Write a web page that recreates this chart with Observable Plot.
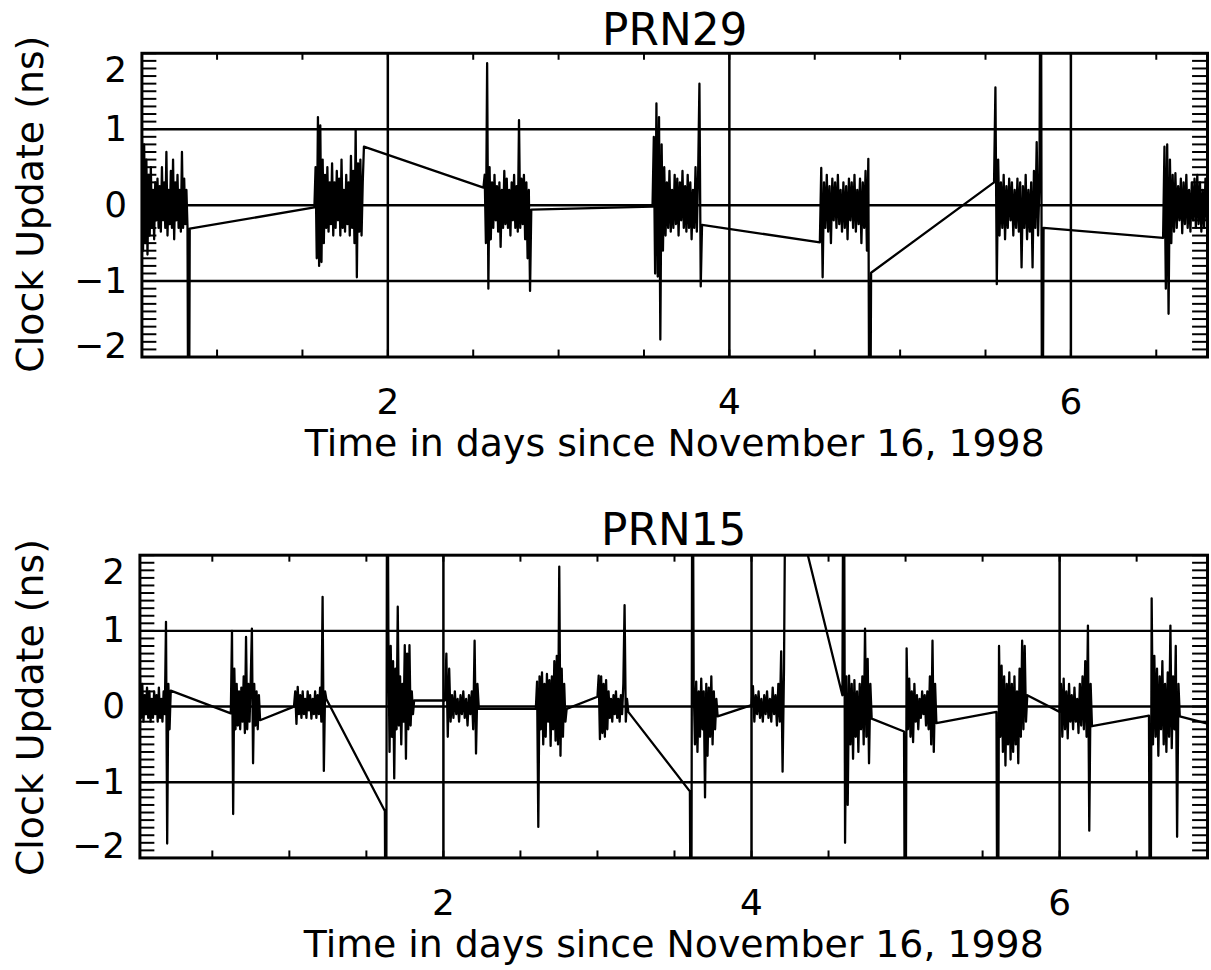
<!DOCTYPE html>
<html><head><meta charset="utf-8">
<script src="https://cdn.jsdelivr.net/npm/d3@7"></script>
<script src="https://cdn.jsdelivr.net/npm/@observablehq/plot@0.6"></script>
<style>
html,body{margin:0;padding:0;background:#fff;overflow:hidden;}
#chart{position:relative;width:1211px;height:970px;overflow:hidden;background:#fff;}
#chart svg{position:absolute;left:0;}
</style></head><body><div id="chart"></div>
<script>
const xLabel = "Time in days since November 16, 1998";
const yLabel = "Clock Update (ns)";
const xTickValues = [2, 4, 6];
const yTickInner = [1, 0, -1];
const yTickTop = [2];
const yTickBottom = [-2];
const gridY = [-1, 0, 1];
const gridX = [2, 4, 6];
const xMinor = [0.5, 1, 1.5, 2, 2.5, 3, 3.5, 4, 4.5, 5, 5.5, 6, 6.5];
const yMinor = [-2, -1.9, -1.8, -1.7, -1.6, -1.5, -1.4, -1.3, -1.2, -1.1, -1, -0.9, -0.8, -0.7, -0.6, -0.5, -0.4, -0.3, -0.2, -0.1, 0,
  0.1, 0.2, 0.3, 0.4, 0.5, 0.6, 0.7, 0.8, 0.9, 1, 1.1, 1.2, 1.3, 1.4, 1.5, 1.6, 1.7, 1.8, 1.9, 2];

// PRN29 (top panel): burst start/end day and sampled clock updates (ns)
const prn29Start = [0.56, 1.57, 2.56, 3.55, 4.53, 5.55, 6.54];
const prn29End   = [0.84, 1.86, 2.84, 3.84, 4.83, 5.84, 6.82];
const prn29Bursts = [
  [0.9,-0.6,0.8,-0.5,0.6,-0.65,0.4,-0.4,0.5,-0.3,0.2,-0.45,0.3,-0.2,0.35,-0.3,0.25,-0.35,0.5,-0.2,0.3,-0.3,0.7,-0.4,0.2,-0.25,0.45,-0.3,0.6,-0.45,0.3,-0.2,0.4,-0.3,0.2,-0.35,0.7,-0.3,0.35,-0.25,0.2,-0.3,-5,-0.31],
  [-0.03,0.5,-0.7,1.16,-0.8,1.05,-0.75,0.6,-0.5,0.4,-0.3,0.5,-0.35,0.3,-0.25,0.55,-0.4,0.3,-0.3,0.45,-0.2,0.35,-0.4,0.6,-0.3,0.2,-0.35,0.4,-0.25,0.3,-0.4,0.65,-0.3,0.45,-0.5,1.0,-0.95,0.55,-0.35,0.6,-0.4,0.3,0.77],
  [0.23,0.4,-0.5,1.87,-1.1,0.5,-0.45,0.3,-0.3,0.4,-0.2,0.25,-0.35,0.3,-0.55,0.2,-0.3,0.45,-0.25,0.35,-0.3,0.2,-0.4,0.3,-0.2,0.4,-0.3,0.25,-0.35,1.12,-0.3,0.35,-0.25,0.4,-0.45,0.3,-0.7,0.2,-1.13,-0.06],
  [-0.02,0.9,-0.9,1.34,-0.94,1.16,-1.77,0.8,-0.6,0.5,-0.4,0.3,-0.3,0.45,-0.35,0.2,-0.3,0.4,-0.25,0.35,-0.4,0.3,-0.2,0.45,-0.3,0.25,-0.35,0.4,-0.3,0.3,-0.45,0.2,-0.3,0.5,-0.35,0.4,1.6,-1.07,-0.26],
  [-0.49,0.49,-0.95,0.3,-0.3,0.4,-0.35,0.25,-0.5,0.35,-0.2,0.3,-0.3,0.4,-0.25,0.2,-0.35,0.3,-0.3,0.25,-0.45,0.35,-0.2,0.3,-0.3,0.4,-0.35,0.2,-0.25,0.35,-0.5,0.3,-0.3,0.45,-0.6,0.61,-5,-0.89],
  [0.3,1.55,-1.04,0.6,-0.4,0.3,-0.3,0.4,-0.45,0.25,-0.3,0.35,-0.2,0.3,-0.4,0.2,-0.3,0.35,-0.35,0.3,-0.82,0.25,-0.3,0.4,-0.45,0.2,-0.35,0.3,-0.82,0.45,-0.3,0.83,-0.4,0.3,5,-5,-0.3],
  [-0.43,0.77,-1.1,0.8,-1.43,0.6,-0.5,0.4,-0.35,0.42,-0.3,0.25,-0.2,0.35,-0.37,0.3,-0.25,0.4,-0.3,0.2,-0.35,0.3,-0.2,0.35,-0.3,0.4,-0.25,0.3,-0.35,0.2,-0.3,0.35,-0.2,0.3,-0.3,0.25]
];

// PRN15 (bottom panel)
const prn15Start = [0.03, 0.62, 1.03, 1.62, 2.01, 2.6, 3.0, 3.6, 4.0, 4.59, 4.99, 5.59, 6.0, 6.58, 6.97];
const prn15End   = [0.23, 0.81, 1.24, 1.81, 2.23, 2.8, 3.2, 3.78, 4.22, 4.78, 5.2, 5.79, 6.21, 6.78, 6.97];
const prn15Bursts = [
  [0.4,-0.15,0.3,-0.2,0.15,-0.1,0.25,-0.15,0.2,-0.2,0.1,-0.15,0.2,-0.1,0.15,-0.2,0.25,-0.15,0.1,-0.2,0.2,-0.1,1.12,-1.81,0.3,-0.3,0.21],
  [-0.09,1.0,-1.42,0.5,-0.3,0.3,-0.25,0.2,-0.3,0.25,-0.2,0.4,-0.35,0.92,-0.3,0.3,-0.2,0.35,1.03,-0.75,0.3,-0.25,0.2,-0.3,0.15,-0.18],
  [0.0,0.2,-0.23,0.26,-0.1,0.15,-0.15,0.2,-0.1,0.1,-0.15,0.2,-0.05,0.15,-0.16,0.1,-0.1,0.2,-0.15,0.15,-0.1,0.25,-0.2,1.45,-0.85,0.2,0.1],
  [-1.38,-5,5,0.94,-0.6,0.8,-0.4,0.6,-0.95,0.5,-0.3,1.32,-0.25,0.4,-0.5,0.3,-0.2,0.81,-0.69,0.7,-0.3,0.81,-0.25,0.2,-0.1,0.08],
  [0.08,0.7,-0.4,0.5,-0.2,0.15,-0.15,0.2,-0.1,0.1,-0.2,0.15,-0.1,0.2,-0.15,0.1,-0.25,0.15,-0.1,0.2,-0.3,0.87,-0.62,0.3,-0.03],
  [-0.03,0.33,-1.59,0.4,-0.3,0.45,-0.5,0.3,-0.4,0.43,-0.2,0.35,-0.52,0.4,-0.3,0.6,-0.45,0.67,-0.5,1.85,-0.65,0.5,-0.4,0.3,-0.2,-0.03],
  [0.13,0.41,-0.43,0.4,-0.35,0.3,-0.4,0.35,-0.3,0.2,-0.15,0.1,-0.2,0.15,-0.1,0.2,-0.15,0.1,-0.2,0.15,-0.1,0.3,1.34,-0.2,0.1,-0.07],
  [-1.12,-5,5,0.3,-0.5,0.33,-0.6,0.2,-0.4,0.37,-0.3,0.2,-1.2,0.3,-0.65,0.25,-0.4,0.4,-0.5,0.2,-0.3,0.1,-0.13],
  [0.02,0.27,-0.2,0.15,-0.1,0.2,-0.15,0.1,-0.2,0.15,-0.1,0.2,-0.15,0.1,-0.2,0.25,-0.1,0.15,-0.25,0.3,-0.2,0.73,-0.86,0.5,3.2],
  [0.15,5,-1.8,0.4,-1.3,0.41,-0.5,0.3,-0.69,0.35,-0.4,0.2,-0.6,0.3,-0.3,0.4,-0.5,1.03,-0.4,0.63,-0.75,0.3,-0.16],
  [-0.33,-5,0.77,-0.3,0.37,-0.4,0.2,-0.47,0.3,-0.2,0.15,-0.3,0.1,-0.15,0.2,-0.1,0.15,-0.25,0.2,-0.3,0.4,-0.5,0.87,-0.6,0.3,-0.22],
  [-0.07,-5,0.8,-0.4,0.54,-0.6,0.4,-0.78,0.3,-0.5,0.45,-0.7,0.3,-0.6,0.4,-0.5,0.2,-0.75,0.5,-0.4,0.87,-0.3,0.8,-0.2,0.15],
  [-0.07,0.3,-0.4,0.37,-0.3,0.2,-0.42,0.3,-0.2,0.15,-0.3,0.25,-0.2,0.1,-0.35,0.3,-0.25,0.4,-0.3,0.6,-0.4,1.07,-1.64,0.3,-0.26],
  [-0.12,-5,1.43,-0.5,0.67,-0.4,0.5,-0.65,0.4,-0.3,0.6,-0.5,0.3,-0.6,0.45,-0.4,1.07,-0.55,0.4,-0.3,0.8,-1.72,0.3,-0.13],
  [-0.23]
];

function toRows(starts, ends, bursts) {
  return bursts.flatMap((vals, b) => vals.map((v, i) => ({
    day: vals.length > 1 ? starts[b] + (ends[b] - starts[b]) * i / (vals.length - 1) : starts[b],
    value: v
  })));
}
const fmt = d => d < 0 ? "\u2212" + (-d) : String(d);
const FONT = "'DejaVu Sans', sans-serif";

function panel(cfg) {
  const W = 1216, mr = 4;
  const fw = W - cfg.marginLeft - mr;
  const fh = cfg.height - cfg.marginTop - cfg.marginBottom;
  const xm = xMinor.filter(d => d >= cfg.domain[0] && d <= cfg.domain[1]);
  const rows = toRows(cfg.starts, cfg.ends, cfg.bursts);
  const svg = Plot.plot({
    width: W, height: cfg.height,
    marginTop: cfg.marginTop, marginBottom: cfg.marginBottom,
    marginLeft: cfg.marginLeft, marginRight: mr,
    x: {domain: cfg.domain, axis: null},
    y: {domain: [-2, 2], axis: null},
    style: {fontFamily: FONT, color: "black", background: "white", overflow: "visible"},
    marks: [
      Plot.ruleY(gridY, {stroke: "black", strokeWidth: 2.5}),
      Plot.ruleX(gridX, {stroke: "black", strokeWidth: 2.5}),
      Plot.tickY(yMinor, {stroke: "black", strokeWidth: 2, insetRight: fw - 15}),
      Plot.tickY(yMinor, {stroke: "black", strokeWidth: 2, insetLeft: fw - 15}),
      Plot.tickX(xm, {stroke: "black", strokeWidth: 2, insetBottom: fh - 7}),
      Plot.tickX(xm, {stroke: "black", strokeWidth: 2, insetTop: fh - 7}),
      Plot.line(rows, {x: "day", y: "value", stroke: "black", strokeWidth: 2.3, clip: true}),
      Plot.frame({stroke: "black", strokeWidth: 3}),
      Plot.text([cfg.title], {frameAnchor: "top", lineAnchor: "bottom", dy: cfg.titleDy, fontSize: 44, fill: "black"}),
      Plot.text(xTickValues, {x: d => d, text: fmt, frameAnchor: "bottom", lineAnchor: "bottom", dy: 57, fontSize: 36, fill: "black"}),
      Plot.text([xLabel], {frameAnchor: "bottom", lineAnchor: "bottom", dy: 99, fontSize: 38, fill: "black"}),
      Plot.text(yTickInner, {y: d => d, text: fmt, frameAnchor: "left", textAnchor: "end", dx: -15, fontSize: 36, fill: "black"}),
      Plot.text(yTickTop, {y: d => d, text: fmt, frameAnchor: "left", textAnchor: "end", dx: -15, dy: 17, fontSize: 36, fill: "black"}),
      Plot.text(yTickBottom, {y: d => d, text: fmt, frameAnchor: "left", textAnchor: "end", dx: -15, dy: -11, fontSize: 36, fill: "black"}),
      Plot.text([yLabel], {frameAnchor: "left", textAnchor: "middle", rotate: -90, dx: cfg.yLabelDx, dy: cfg.yLabelDy, fontSize: 38, fill: "black"})
    ]
  });
  svg.style.top = cfg.top + "px";
  return svg;
}

const chart = document.getElementById("chart");
chart.appendChild(panel({
  title: "PRN29", starts: prn29Start, ends: prn29End, bursts: prn29Bursts,
  domain: [0.56, 6.80], top: 0, height: 480, marginTop: 53, marginBottom: 122, marginLeft: 142,
  titleDy: -8, yLabelDx: -112, yLabelDy: -1
}));
chart.appendChild(panel({
  title: "PRN15", starts: prn15Start, ends: prn15End, bursts: prn15Bursts,
  domain: [0.03, 6.96], top: 480, height: 490, marginTop: 75, marginBottom: 111, marginLeft: 140,
  titleDy: -10, yLabelDx: -110, yLabelDy: 1
}));
</script></body></html>
